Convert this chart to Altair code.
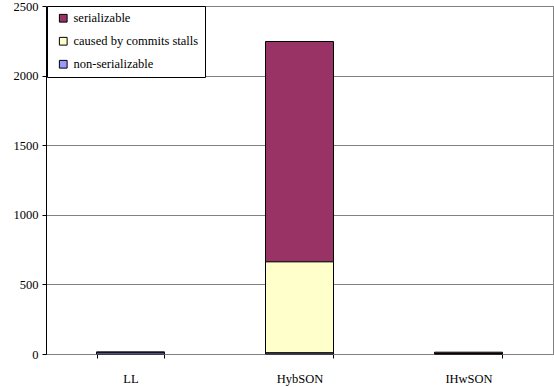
import altair as alt
import pandas as pd

# Stacked bar values per system
systems = ["LL", "HybSON", "IHwSON"]
series = ["serializable", "caused by commits stalls", "non-serializable"]
serializable = [1, 1583, 10]
commit_stalls = [0, 654, 0]
non_serializable = [12, 8, 3]
colors = ["#993366", "#FFFFCC", "#9999FF"]
y_ticks = [0, 500, 1000, 1500, 2000, 2500]

rows = []
for i, s in enumerate(systems):
    for k, (name, vals) in enumerate(zip(series, [serializable, commit_stalls, non_serializable])):
        rows.append({"system": s, "kind": name, "value": vals[i], "stack": 2 - k})
df = pd.DataFrame(rows)

font = "Liberation Serif"

chart = (
    alt.Chart(df)
    .mark_bar(size=68, stroke="black", strokeWidth=1)
    .encode(
        x=alt.X("system:N", sort=systems, title=None,
                scale=alt.Scale(paddingInner=0.6, paddingOuter=0.3),
                axis=alt.Axis(labelAngle=0, tickBand="extent", labelPadding=14,
                              tickSize=4, domainColor="#808080", tickColor="#000000")),
        y=alt.Y("value:Q", stack="zero", title=None,
                scale=alt.Scale(domain=[0, 2500], nice=False),
                axis=alt.Axis(values=y_ticks, format="d", tickSize=4, labelPadding=4,
                              domainColor="#000000", tickColor="#000000",
                              gridColor="#808080", gridWidth=1)),
        color=alt.Color("kind:N", sort=series,
                        scale=alt.Scale(domain=series, range=colors),
                        legend=alt.Legend(title=None, orient="none", legendX=1, legendY=0,
                                          symbolType="square", symbolSize=60,
                                          symbolStrokeColor="black", symbolStrokeWidth=1,
                                          labelFontSize=12.5, labelFont=font,
                                          padding=6, rowPadding=10, symbolOffset=4,
                                          labelOffset=4, strokeColor="black",
                                          fillColor="white")),
        order=alt.Order("stack:Q", sort="ascending"),
    )
    .properties(width=507, height=348,
                autosize=alt.AutoSizeParams(type="none"),
                padding={"left": 46, "top": 6, "right": 1, "bottom": 33})
    .configure_view(stroke="#808080", strokeWidth=1)
    .configure_axis(labelFont=font, labelFontSize=12.5, labelColor="black", domainWidth=1)
    .configure_legend(labelFont=font, labelFontSize=12.5, labelColor="black")
)

chart.save("out.html", embed_options={"renderer": "svg", "actions": False})
